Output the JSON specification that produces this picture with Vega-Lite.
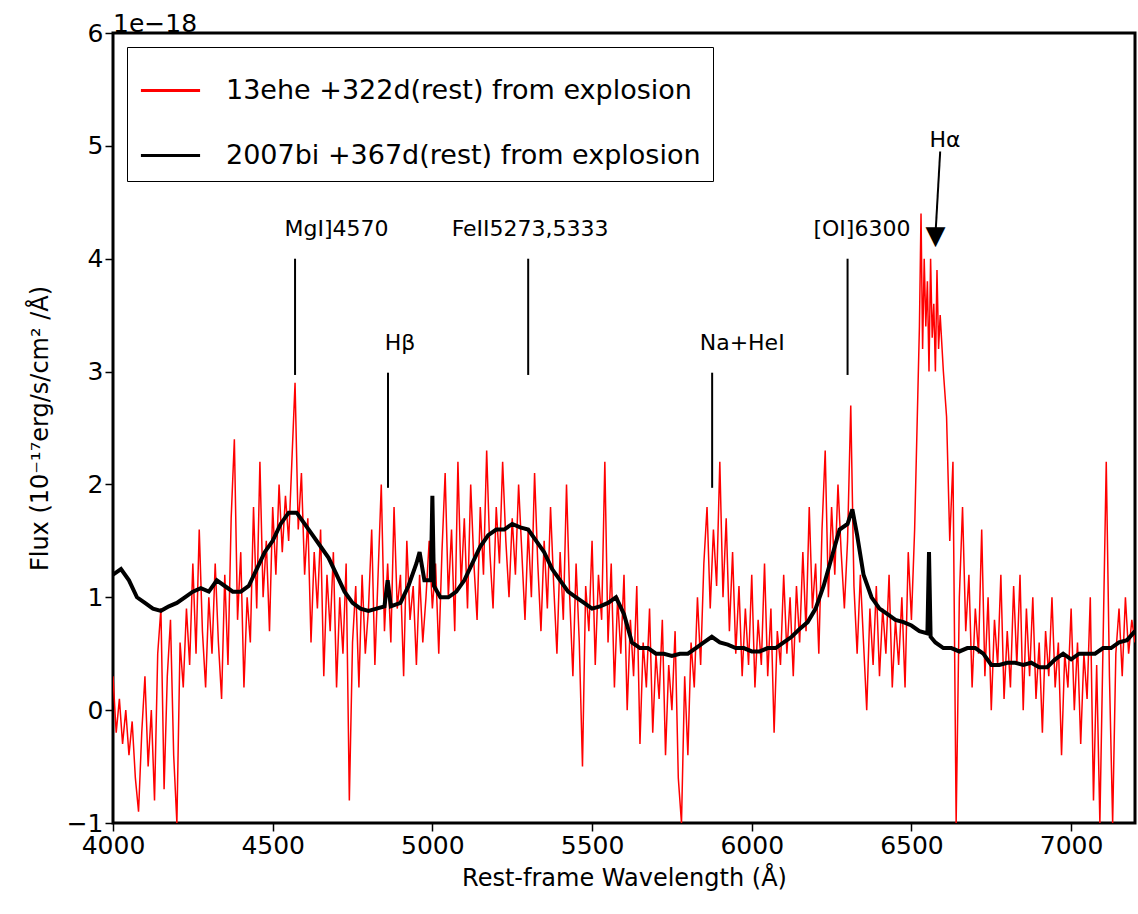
{
  "$schema": "https://vega.github.io/schema/vega-lite/v6.json",
  "width": 1022,
  "height": 790,
  "autosize": {"type": "none"},
  "padding": {"left": 113, "top": 33, "right": 3, "bottom": 91},
  "config": {
    "font": "DejaVu Sans",
    "view": {"stroke": "black", "strokeWidth": 3},
    "axis": {"grid": false, "domain": false, "tickColor": "black", "tickSize": 8, "tickWidth": 1.5, "labelFlush": false, "labelOverlap": false,
             "labelFontSize": 25, "labelColor": "black", "titleFontSize": 24, "titleFontWeight": "normal", "titleColor": "black"}
  },
  "datasets": {
    "spec": [
      {"w":4000,"f":0.3},{"w":4010,"f":-0.2},{"w":4020,"f":0.1},{"w":4030,"f":-0.3},{"w":4040,"f":0.0},{"w":4050,"f":-0.4},{"w":4060,"f":-0.1},{"w":4070,"f":-0.6},{"w":4080,"f":-0.9},{"w":4090,"f":-0.2},
      {"w":4100,"f":0.3},{"w":4110,"f":-0.5},{"w":4120,"f":0.0},{"w":4130,"f":-0.8},{"w":4140,"f":0.5},{"w":4150,"f":0.9},{"w":4160,"f":-0.7},{"w":4170,"f":0.3},{"w":4180,"f":0.8},{"w":4190,"f":-0.4},
      {"w":4200,"f":-1.0},{"w":4210,"f":0.6},{"w":4220,"f":0.2},{"w":4230,"f":0.9},{"w":4240,"f":0.4},{"w":4250,"f":1.3},{"w":4260,"f":0.5},{"w":4270,"f":1.6},{"w":4280,"f":0.7},{"w":4290,"f":0.2},
      {"w":4300,"f":1.0},{"w":4310,"f":0.5},{"w":4320,"f":1.3},{"w":4330,"f":0.6},{"w":4340,"f":0.1},{"w":4350,"f":1.2},{"w":4360,"f":0.4},{"w":4370,"f":1.7},{"w":4380,"f":2.4},{"w":4390,"f":0.8},
      {"w":4400,"f":1.4},{"w":4410,"f":0.2},{"w":4420,"f":1.0},{"w":4430,"f":0.6},{"w":4440,"f":1.8},{"w":4450,"f":0.9},{"w":4460,"f":2.2},{"w":4470,"f":1.0},{"w":4480,"f":1.5},{"w":4490,"f":0.7},
      {"w":4500,"f":1.8},{"w":4510,"f":1.2},{"w":4520,"f":2.0},{"w":4530,"f":1.4},{"w":4540,"f":1.9},{"w":4550,"f":1.5},{"w":4560,"f":2.2},{"w":4570,"f":2.9},{"w":4580,"f":1.6},{"w":4590,"f":2.1},
      {"w":4600,"f":1.2},{"w":4610,"f":1.7},{"w":4620,"f":0.6},{"w":4630,"f":1.4},{"w":4640,"f":0.9},{"w":4650,"f":1.6},{"w":4660,"f":0.3},{"w":4670,"f":1.2},{"w":4680,"f":0.7},{"w":4690,"f":1.4},
      {"w":4700,"f":0.2},{"w":4710,"f":1.0},{"w":4720,"f":0.5},{"w":4730,"f":1.3},{"w":4740,"f":-0.8},{"w":4750,"f":0.6},{"w":4760,"f":1.1},{"w":4770,"f":0.2},{"w":4780,"f":1.2},{"w":4790,"f":0.5},
      {"w":4800,"f":0.9},{"w":4810,"f":1.6},{"w":4820,"f":0.4},{"w":4830,"f":1.2},{"w":4840,"f":2.0},{"w":4850,"f":0.7},{"w":4860,"f":1.3},{"w":4870,"f":0.6},{"w":4880,"f":1.8},{"w":4890,"f":0.9},
      {"w":4900,"f":1.2},{"w":4910,"f":0.3},{"w":4920,"f":1.5},{"w":4930,"f":0.8},{"w":4940,"f":1.1},{"w":4950,"f":0.4},{"w":4960,"f":1.2},{"w":4970,"f":0.6},{"w":4980,"f":1.0},{"w":4990,"f":1.5},
      {"w":5000,"f":0.9},{"w":5010,"f":1.3},{"w":5020,"f":0.5},{"w":5030,"f":1.4},{"w":5040,"f":2.1},{"w":5050,"f":1.0},{"w":5060,"f":1.6},{"w":5070,"f":0.7},{"w":5080,"f":2.2},{"w":5090,"f":1.1},
      {"w":5100,"f":1.7},{"w":5110,"f":0.9},{"w":5120,"f":2.0},{"w":5130,"f":1.3},{"w":5140,"f":0.8},{"w":5150,"f":1.8},{"w":5160,"f":1.2},{"w":5170,"f":2.3},{"w":5180,"f":1.4},{"w":5190,"f":0.9},
      {"w":5200,"f":1.8},{"w":5210,"f":1.3},{"w":5220,"f":2.2},{"w":5230,"f":1.5},{"w":5240,"f":1.0},{"w":5250,"f":1.7},{"w":5260,"f":1.2},{"w":5270,"f":2.0},{"w":5280,"f":1.4},{"w":5290,"f":0.8},
      {"w":5300,"f":1.6},{"w":5310,"f":1.0},{"w":5320,"f":2.1},{"w":5330,"f":1.3},{"w":5340,"f":0.7},{"w":5350,"f":1.5},{"w":5360,"f":0.9},{"w":5370,"f":1.8},{"w":5380,"f":1.1},{"w":5390,"f":0.5},
      {"w":5400,"f":1.4},{"w":5410,"f":0.8},{"w":5420,"f":2.0},{"w":5430,"f":1.0},{"w":5440,"f":0.3},{"w":5450,"f":1.3},{"w":5460,"f":0.6},{"w":5470,"f":-0.5},{"w":5480,"f":1.1},{"w":5490,"f":0.7},
      {"w":5500,"f":1.5},{"w":5510,"f":0.4},{"w":5520,"f":1.2},{"w":5530,"f":0.8},{"w":5540,"f":2.2},{"w":5550,"f":0.6},{"w":5560,"f":1.3},{"w":5570,"f":0.2},{"w":5580,"f":1.0},{"w":5590,"f":0.5},
      {"w":5600,"f":1.2},{"w":5610,"f":0.0},{"w":5620,"f":0.8},{"w":5630,"f":0.3},{"w":5640,"f":1.1},{"w":5650,"f":-0.3},{"w":5660,"f":0.6},{"w":5670,"f":0.2},{"w":5680,"f":0.9},{"w":5690,"f":-0.2},
      {"w":5700,"f":0.5},{"w":5710,"f":0.1},{"w":5720,"f":0.8},{"w":5730,"f":-0.4},{"w":5740,"f":0.4},{"w":5750,"f":0.0},{"w":5760,"f":0.7},{"w":5770,"f":-0.6},{"w":5780,"f":-1.0},{"w":5790,"f":0.3},
      {"w":5800,"f":-0.4},{"w":5810,"f":0.6},{"w":5820,"f":0.2},{"w":5830,"f":1.0},{"w":5840,"f":0.4},{"w":5850,"f":1.3},{"w":5860,"f":1.8},{"w":5870,"f":0.9},{"w":5880,"f":1.6},{"w":5890,"f":1.1},
      {"w":5900,"f":2.2},{"w":5910,"f":1.0},{"w":5920,"f":1.7},{"w":5930,"f":0.7},{"w":5940,"f":1.4},{"w":5950,"f":0.5},{"w":5960,"f":1.1},{"w":5970,"f":0.3},{"w":5980,"f":0.9},{"w":5990,"f":0.4},
      {"w":6000,"f":1.2},{"w":6010,"f":0.2},{"w":6020,"f":0.8},{"w":6030,"f":0.4},{"w":6040,"f":1.3},{"w":6050,"f":0.3},{"w":6060,"f":0.9},{"w":6070,"f":-0.2},{"w":6080,"f":0.7},{"w":6090,"f":0.4},
      {"w":6100,"f":1.2},{"w":6110,"f":0.5},{"w":6120,"f":1.0},{"w":6130,"f":0.3},{"w":6140,"f":1.1},{"w":6150,"f":0.6},{"w":6160,"f":1.4},{"w":6170,"f":0.7},{"w":6180,"f":1.8},{"w":6190,"f":0.9},
      {"w":6200,"f":1.3},{"w":6210,"f":0.5},{"w":6220,"f":1.6},{"w":6230,"f":2.3},{"w":6240,"f":1.0},{"w":6250,"f":1.8},{"w":6260,"f":1.2},{"w":6270,"f":2.0},{"w":6280,"f":1.4},{"w":6290,"f":0.9},
      {"w":6300,"f":1.5},{"w":6310,"f":2.7},{"w":6320,"f":1.1},{"w":6330,"f":0.5},{"w":6340,"f":1.2},{"w":6350,"f":0.6},{"w":6360,"f":0.0},{"w":6370,"f":0.9},{"w":6380,"f":0.4},{"w":6390,"f":1.1},
      {"w":6400,"f":0.3},{"w":6410,"f":0.9},{"w":6420,"f":0.5},{"w":6430,"f":1.2},{"w":6440,"f":0.2},{"w":6450,"f":0.8},{"w":6460,"f":0.4},{"w":6470,"f":1.0},{"w":6480,"f":0.2},{"w":6490,"f":1.4},
      {"w":6500,"f":0.8},{"w":6510,"f":1.6},{"w":6520,"f":2.8},{"w":6525,"f":3.4},{"w":6530,"f":4.4},{"w":6535,"f":3.2},{"w":6540,"f":4.0},{"w":6545,"f":3.4},{"w":6550,"f":3.8},{"w":6555,"f":3.0},
      {"w":6560,"f":4.0},{"w":6565,"f":3.3},{"w":6570,"f":3.6},{"w":6575,"f":3.0},{"w":6580,"f":3.9},{"w":6585,"f":3.2},{"w":6590,"f":3.5},{"w":6600,"f":3.0},{"w":6610,"f":2.6},{"w":6620,"f":1.5},
      {"w":6630,"f":2.2},{"w":6640,"f":-1.0},{"w":6650,"f":1.0},{"w":6660,"f":1.8},{"w":6670,"f":0.7},{"w":6680,"f":1.2},{"w":6690,"f":0.2},{"w":6700,"f":0.9},{"w":6710,"f":0.5},{"w":6720,"f":1.6},
      {"w":6730,"f":0.3},{"w":6740,"f":1.0},{"w":6750,"f":0.0},{"w":6760,"f":0.8},{"w":6770,"f":0.4},{"w":6780,"f":1.2},{"w":6790,"f":0.1},{"w":6800,"f":0.7},{"w":6810,"f":0.2},{"w":6820,"f":1.1},
      {"w":6830,"f":0.4},{"w":6840,"f":1.2},{"w":6850,"f":0.0},{"w":6860,"f":0.9},{"w":6870,"f":0.3},{"w":6880,"f":1.0},{"w":6890,"f":0.1},{"w":6900,"f":0.6},{"w":6910,"f":-0.2},{"w":6920,"f":0.7},
      {"w":6930,"f":0.3},{"w":6940,"f":1.0},{"w":6950,"f":0.2},{"w":6960,"f":0.6},{"w":6970,"f":-0.4},{"w":6980,"f":0.5},{"w":6990,"f":0.2},{"w":7000,"f":0.9},{"w":7010,"f":0.0},{"w":7020,"f":0.6},
      {"w":7030,"f":-0.3},{"w":7040,"f":0.5},{"w":7050,"f":0.1},{"w":7060,"f":1.0},{"w":7070,"f":-0.8},{"w":7080,"f":0.4},{"w":7090,"f":-1.0},{"w":7100,"f":0.6},{"w":7110,"f":2.2},{"w":7120,"f":0.3},
      {"w":7130,"f":-1.0},{"w":7140,"f":0.5},{"w":7150,"f":0.9},{"w":7160,"f":0.3},{"w":7170,"f":1.0},{"w":7180,"f":0.5},{"w":7190,"f":0.8},{"w":7200,"f":0.6}
    ],
    "bi": [
      {"w":4000,"f":1.2},{"w":4025,"f":1.25},{"w":4050,"f":1.15},{"w":4075,"f":1.0},{"w":4100,"f":0.95},{"w":4125,"f":0.9},{"w":4150,"f":0.88},{"w":4175,"f":0.92},{"w":4200,"f":0.95},{"w":4225,"f":1.0},
      {"w":4250,"f":1.05},{"w":4275,"f":1.08},{"w":4300,"f":1.05},{"w":4325,"f":1.15},{"w":4350,"f":1.1},{"w":4375,"f":1.05},{"w":4400,"f":1.05},{"w":4425,"f":1.1},{"w":4450,"f":1.25},{"w":4475,"f":1.4},
      {"w":4500,"f":1.5},{"w":4525,"f":1.65},{"w":4550,"f":1.75},{"w":4575,"f":1.75},{"w":4600,"f":1.65},{"w":4625,"f":1.55},{"w":4650,"f":1.45},{"w":4675,"f":1.35},{"w":4700,"f":1.2},{"w":4725,"f":1.05},
      {"w":4750,"f":0.95},{"w":4775,"f":0.9},{"w":4800,"f":0.88},{"w":4825,"f":0.9},{"w":4850,"f":0.92},{"w":4860,"f":1.15},{"w":4870,"f":0.92},{"w":4900,"f":0.95},{"w":4925,"f":1.1},{"w":4950,"f":1.3},
      {"w":4960,"f":1.4},{"w":4975,"f":1.15},{"w":4995,"f":1.15},{"w":5000,"f":1.9},{"w":5005,"f":1.1},{"w":5025,"f":1.0},{"w":5050,"f":1.0},{"w":5075,"f":1.05},{"w":5100,"f":1.15},{"w":5125,"f":1.3},
      {"w":5150,"f":1.45},{"w":5175,"f":1.55},{"w":5200,"f":1.6},{"w":5225,"f":1.6},{"w":5250,"f":1.65},{"w":5275,"f":1.62},{"w":5300,"f":1.6},{"w":5325,"f":1.5},{"w":5350,"f":1.4},{"w":5375,"f":1.25},
      {"w":5400,"f":1.15},{"w":5425,"f":1.05},{"w":5450,"f":1.0},{"w":5475,"f":0.95},{"w":5500,"f":0.9},{"w":5525,"f":0.92},{"w":5550,"f":0.95},{"w":5575,"f":1.0},{"w":5600,"f":0.85},{"w":5625,"f":0.6},
      {"w":5650,"f":0.55},{"w":5675,"f":0.55},{"w":5700,"f":0.5},{"w":5725,"f":0.5},{"w":5750,"f":0.48},{"w":5775,"f":0.5},{"w":5800,"f":0.5},{"w":5825,"f":0.55},{"w":5850,"f":0.6},{"w":5875,"f":0.65},
      {"w":5900,"f":0.6},{"w":5925,"f":0.58},{"w":5950,"f":0.55},{"w":5975,"f":0.55},{"w":6000,"f":0.52},{"w":6025,"f":0.52},{"w":6050,"f":0.55},{"w":6075,"f":0.55},{"w":6100,"f":0.6},{"w":6125,"f":0.65},
      {"w":6150,"f":0.72},{"w":6175,"f":0.78},{"w":6200,"f":0.9},{"w":6225,"f":1.1},{"w":6250,"f":1.35},{"w":6275,"f":1.6},{"w":6300,"f":1.65},{"w":6315,"f":1.78},{"w":6330,"f":1.55},{"w":6350,"f":1.2},
      {"w":6375,"f":1.0},{"w":6400,"f":0.9},{"w":6425,"f":0.85},{"w":6450,"f":0.8},{"w":6475,"f":0.78},{"w":6500,"f":0.75},{"w":6525,"f":0.7},{"w":6550,"f":0.68},{"w":6555,"f":1.4},{"w":6560,"f":0.65},
      {"w":6575,"f":0.6},{"w":6600,"f":0.55},{"w":6625,"f":0.55},{"w":6650,"f":0.52},{"w":6675,"f":0.55},{"w":6700,"f":0.55},{"w":6725,"f":0.5},{"w":6750,"f":0.4},{"w":6775,"f":0.4},{"w":6800,"f":0.42},
      {"w":6825,"f":0.42},{"w":6850,"f":0.4},{"w":6875,"f":0.42},{"w":6900,"f":0.38},{"w":6925,"f":0.38},{"w":6950,"f":0.45},{"w":6975,"f":0.5},{"w":7000,"f":0.45},{"w":7025,"f":0.5},{"w":7050,"f":0.5},
      {"w":7075,"f":0.5},{"w":7100,"f":0.55},{"w":7125,"f":0.55},{"w":7150,"f":0.6},{"w":7175,"f":0.62},{"w":7200,"f":0.7}
    ],
    "lines": [
      {"w":4570,"y1":2.97,"y2":4.0},{"w":4861,"y1":1.97,"y2":2.99},{"w":5300,"y1":2.97,"y2":4.0},{"w":5876,"y1":1.97,"y2":2.99},{"w":6300,"y1":2.97,"y2":4.0}
    ],
    "labels": [
      {"w":4700,"y":4.26,"t":"MgI]4570"},{"w":4899,"y":3.25,"t":"Hβ"},{"w":5306,"y":4.26,"t":"FeII5273,5333"},
      {"w":5970,"y":3.25,"t":"Na+HeI"},{"w":6345,"y":4.26,"t":"[OI]6300"},{"w":6605,"y":5.05,"t":"Hα"}
    ]
  },
  "layer": [
    {
      "data": {"name": "spec"},
      "transform": [{"calculate": "'13ehe +322d(rest) from explosion'", "as": "s"}],
      "mark": {"type": "line", "clip": true, "strokeWidth": 1.5},
      "encoding": {
        "x": {"field": "w", "type": "quantitative", "scale": {"domain": [4000, 7200], "nice": false, "zero": false},
              "axis": {"values": [4000,4500,5000,5500,6000,6500,7000], "format": "d", "title": "Rest-frame Wavelength (Å)", "titlePadding": 8}},
        "y": {"field": "f", "type": "quantitative", "scale": {"domain": [-1, 6], "nice": false},
              "axis": {"values": [-1,0,1,2,3,4,5,6], "format": "d", "labelExpr": "replace(datum.label, '-', '−')", "title": "Flux (10⁻¹⁷erg/s/cm² /Å)", "titlePadding": 14}},
        "color": {"field": "s", "type": "nominal",
                  "scale": {"domain": ["13ehe +322d(rest) from explosion", "2007bi +367d(rest) from explosion"], "range": ["red", "black"]},
                  "legend": {"title": null, "orient": "top-left", "offset": 14, "symbolType": "stroke", "symbolSize": 3500, "symbolStrokeWidth": 3,
                             "labelFontSize": 27, "labelColor": "black", "labelLimit": 800, "labelOffset": 24, "rowPadding": 20, "padding": 12, "strokeColor": "black", "fillColor": "white"}}
      }
    },
    {
      "data": {"name": "bi"},
      "transform": [{"calculate": "'2007bi +367d(rest) from explosion'", "as": "s"}],
      "mark": {"type": "line", "clip": true, "strokeWidth": 4},
      "encoding": {
        "x": {"field": "w", "type": "quantitative"},
        "y": {"field": "f", "type": "quantitative"},
        "color": {"field": "s", "type": "nominal"}
      }
    },
    {
      "data": {"name": "lines"},
      "mark": {"type": "rule", "color": "black", "strokeWidth": 2},
      "encoding": {
        "x": {"field": "w", "type": "quantitative"},
        "y": {"field": "y1", "type": "quantitative"},
        "y2": {"field": "y2"}
      }
    },
    {
      "data": {"values": [{"a": 6590, "b": 6575, "ya": 4.95, "yb": 4.2}]},
      "mark": {"type": "rule", "color": "black", "strokeWidth": 2},
      "encoding": {
        "x": {"field": "a", "type": "quantitative"},
        "x2": {"field": "b"},
        "y": {"field": "ya", "type": "quantitative"},
        "y2": {"field": "yb"}
      }
    },
    {
      "data": {"values": [{"a": 6575, "y": 4.1, "t": "▼"}]},
      "mark": {"type": "text", "fontSize": 26, "color": "black", "align": "center", "baseline": "bottom", "dy": 2},
      "encoding": {
        "x": {"field": "a", "type": "quantitative"},
        "y": {"field": "y", "type": "quantitative"},
        "text": {"field": "t"}
      }
    },
    {
      "data": {"name": "labels"},
      "mark": {"type": "text", "fontSize": 22, "color": "black", "baseline": "middle", "align": "center"},
      "encoding": {
        "x": {"field": "w", "type": "quantitative"},
        "y": {"field": "y", "type": "quantitative"},
        "text": {"field": "t"}
      }
    },
    {
      "data": {"values": [{"x": 4000, "y": 6, "t": "1e−18"}]},
      "mark": {"type": "text", "fontSize": 25, "color": "black", "align": "left", "baseline": "bottom", "dy": 4, "clip": false},
      "encoding": {
        "x": {"field": "x", "type": "quantitative"},
        "y": {"field": "y", "type": "quantitative"},
        "text": {"field": "t"}
      }
    }
  ]
}
